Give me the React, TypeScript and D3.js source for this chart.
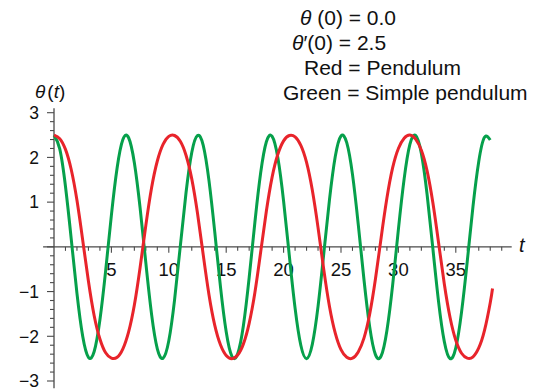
import { useEffect, useRef } from "react";
import * as d3 from "d3";

// sample times (t) read along the horizontal axis
const times = [
  0, 0.5, 1, 1.5, 2, 2.5, 3, 3.5, 4, 4.5,
  5, 5.5, 6, 6.5, 7, 7.5, 8, 8.5, 9, 9.5,
  10, 10.5, 11, 11.5, 12, 12.5, 13, 13.5, 14, 14.5,
  15, 15.5, 16, 16.5, 17, 17.5, 18, 18.5, 19, 19.5,
  20, 20.5, 21, 21.5, 22, 22.5, 23, 23.5, 24, 24.5,
  25, 25.5, 26, 26.5, 27, 27.5, 28, 28.5, 29, 29.5,
  30, 30.5, 31, 31.5, 32, 32.5, 33, 33.5, 34, 34.5,
  35, 35.5, 36, 36.5, 37, 37.5, 38,
];

// green curve: simple pendulum
const simpleValues = [
  2.50, 2.19, 1.35, 0.18, -1.04, -2.00, -2.47, -2.34, -1.63, -0.53,
  0.71, 1.77, 2.40, 2.44, 1.88, 0.87, -0.36, -1.51, -2.28, -2.49,
  -2.10, -1.19, 0.01, 1.21, 2.11, 2.49, 2.27, 1.48, 0.34, -0.89,
  -1.90, -2.45, -2.39, -1.76, -0.69, 0.55, 1.65, 2.35, 2.47, 1.99,
  1.02, -0.20, -1.37, -2.20, -2.50, -2.18, -1.33, -0.15, 1.06, 2.02,
  2.48, 2.33, 1.62, 0.51, -0.73, -1.79, -2.41, -2.44, -1.87, -0.85,
  0.39, 1.52, 2.29, 2.49, 2.09, 1.17, -0.03, -1.23, -2.12, -2.50,
  -2.26, -1.46, -0.32, 0.91, 1.91, 2.45, 2.39,
];

// red curve: pendulum
const pendulumValues = [
  2.50, 2.42, 2.18, 1.73, 1.04, 0.15, -0.77, -1.54, -2.06, -2.37,
  -2.49, -2.47, -2.28, -1.90, -1.30, -0.46, 0.48, 1.32, 1.92, 2.29,
  2.47, 2.49, 2.36, 2.05, 1.52, 0.75, -0.18, -1.07, -1.75, -2.19,
  -2.43, -2.50, -2.42, -2.17, -1.71, -1.02, -0.12, 0.80, 1.56, 2.07,
  2.37, 2.49, 2.46, 2.27, 1.89, 1.27, 0.43, -0.51, -1.34, -1.93,
  -2.30, -2.47, -2.49, -2.35, -2.04, -1.50, -0.72, 0.21, 1.09, 1.77,
  2.20, 2.43, 2.50, 2.41, 2.16, 1.70, 0.99, 0.09, -0.83, -1.58,
  -2.09, -2.38, -2.49, -2.46, -2.26, -1.87, -1.25,
];
const pendulumTailTime = 38.2;
const pendulumTailValue = -0.93;

const xTickLabels = [5, 10, 15, 20, 25, 30, 35];
const yTickLabels = [-3, -2, -1, 1, 2, 3];

const legendLines = [
  [{ text: "θ", italic: true }, { text: " (0) = 0.0", italic: false }],
  [{ text: "θ", italic: true }, { text: "′(0) = 2.5", italic: false }],
  [{ text: "Red = Pendulum", italic: false }],
  [{ text: "Green = Simple pendulum", italic: false }],
];

const FONT = "'Liberation Sans', Arial, Helvetica, sans-serif";
const RED = "#e8242b";
const GREEN = "#06a04b";
const AXIS = "#4a4a4a";

export default function App() {
  const ref = useRef<SVGSVGElement>(null);

  useEffect(() => {
    document.body.style.margin = "0";
    const el = ref.current;
    if (!el) return;
    const svg = d3.select(el);
    svg.selectAll("*").remove();

    const x = d3.scaleLinear().domain([0, 40]).range([54, 513.2]);
    const y = d3.scaleLinear().domain([-3, 3]).range([381, 112.7]);

    // ── Axes lines ──────────────────────────────────────────────
    svg.append("line")
      .attr("x1", x(-0.95)).attr("x2", x(39.87))
      .attr("y1", y(0)).attr("y2", y(0))
      .attr("stroke", AXIS).attr("stroke-width", 1.3);
    svg.append("line")
      .attr("x1", x(0)).attr("x2", x(0))
      .attr("y1", y(3.1)).attr("y2", y(-3.16))
      .attr("stroke", AXIS).attr("stroke-width", 1.3);

    // x ticks: every unit, longer at multiples of 5
    const xTicks = d3.range(1, 40);
    svg.append("g").selectAll("line")
      .data(xTicks)
      .enter()
      .append("line")
      .attr("x1", d => x(d)).attr("x2", d => x(d))
      .attr("y1", y(0))
      .attr("y2", d => y(0) + (d % 5 === 0 ? 6 : 4))
      .attr("stroke", AXIS).attr("stroke-width", 1.1);

    // y ticks: every 0.2, longer at integers
    const yTicks = d3.range(-15, 16).map(i => i / 5);
    svg.append("g").selectAll("line")
      .data(yTicks)
      .enter()
      .append("line")
      .attr("x1", d => x(0) - (Math.abs(d - Math.round(d)) < 1e-6 ? 7 : 4))
      .attr("x2", x(0))
      .attr("y1", d => y(d)).attr("y2", d => y(d))
      .attr("stroke", AXIS).attr("stroke-width", 1.1);

    // tick labels
    svg.append("g").selectAll("text")
      .data(xTickLabels)
      .enter()
      .append("text")
      .attr("x", d => x(d))
      .attr("y", y(0) + 29)
      .attr("text-anchor", "middle")
      .style("font-family", FONT)
      .style("font-size", "18.5px")
      .style("fill", "#111")
      .text(d => String(d));

    svg.append("g").selectAll("text")
      .data(yTickLabels)
      .enter()
      .append("text")
      .attr("x", x(0) - 15)
      .attr("y", d => y(d) + 6.3)
      .attr("text-anchor", "end")
      .style("font-family", FONT)
      .style("font-size", "17.5px")
      .style("fill", "#111")
      .text(d => (d < 0 ? "\u2212" + Math.abs(d) : String(d)));

    // axis titles
    const yTitle = svg.append("text")
      .attr("x", 35).attr("y", 98)
      .style("font-family", FONT)
      .style("font-size", "19px")
      .style("fill", "#111");
    yTitle.append("tspan").style("font-style", "italic").text("θ");
    yTitle.append("tspan").attr("dx", 2).text("(");
    yTitle.append("tspan").style("font-style", "italic").text("t");
    yTitle.append("tspan").text(")");

    svg.append("text")
      .attr("x", 519).attr("y", 252)
      .style("font-family", FONT)
      .style("font-size", "20px")
      .style("font-style", "italic")
      .style("fill", "#111")
      .text("t");

    // ── Curves ──────────────────────────────────────────────────
    const line = d3.line<[number, number]>()
      .x(d => x(d[0]))
      .y(d => y(d[1]))
      .curve(d3.curveNatural);

    const greenPts = times.map((t, i) => [t, simpleValues[i]] as [number, number]);
    const redPts = times.map((t, i) => [t, pendulumValues[i]] as [number, number]);
    redPts.push([pendulumTailTime, pendulumTailValue]);

    svg.append("path")
      .attr("d", line(greenPts))
      .attr("fill", "none")
      .attr("stroke", GREEN)
      .attr("stroke-width", 3);
    svg.append("path")
      .attr("d", line(redPts))
      .attr("fill", "none")
      .attr("stroke", RED)
      .attr("stroke-width", 3);

    // ── Legend text ─────────────────────────────────────────────
    const legendX = [300, 292, 304, 283];
    legendLines.forEach((parts, i) => {
      const txt = svg.append("text")
        .attr("x", legendX[i])
        .attr("y", 25 + i * 25)
        .style("font-family", FONT)
        .style("font-size", "21px")
        .style("fill", "#111");
      parts.forEach(p => {
        txt.append("tspan")
          .style("font-style", p.italic ? "italic" : "normal")
          .text(p.text);
      });
    });

    return () => { svg.selectAll("*").remove(); };
  }, []);

  return <svg ref={ref} width={536} height={392} style={{ display: "block" }} />;
}
